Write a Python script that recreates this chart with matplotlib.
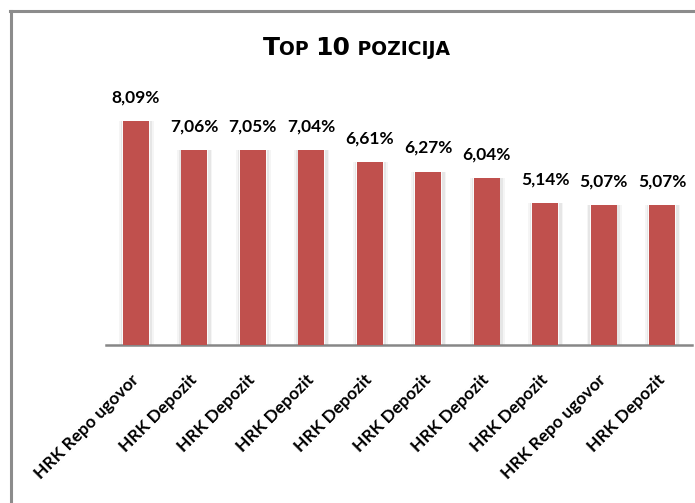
import matplotlib.pyplot as plt
from matplotlib.lines import Line2D

pozicije = ['HRK Repo ugovor', 'HRK Depozit', 'HRK Depozit', 'HRK Depozit',
            'HRK Depozit', 'HRK Depozit', 'HRK Depozit', 'HRK Depozit',
            'HRK Repo ugovor', 'HRK Depozit']
udjeli = [8.09, 7.06, 7.05, 7.04, 6.61, 6.27, 6.04, 5.14, 5.07, 5.07]

bar_color = '#C0504D'
W, H = 695, 503

fig = plt.figure(figsize=(6.95, 5.03), dpi=100)
ax = fig.add_axes([106 / W, (H - 345) / H, (692 - 106) / W, 285 / H])

x = list(range(len(udjeli)))
w = 0.44
# soft shadow round the bars
ax.bar([i + 0.01 for i in x], udjeli, width=w + 0.16, color='#f5f5f5', zorder=1)
ax.bar([i + 0.01 for i in x], udjeli, width=w + 0.10, color='#e6e6e6', zorder=1)
ax.bar(x, udjeli, width=w + 0.03, color='#fbfbfb', zorder=2)
ax.bar(x, udjeli, width=w, color=bar_color, zorder=3)

for i, v in zip(x, udjeli):
    ax.annotate(f'{v:.2f}%'.replace('.', ','), (i, v), xytext=(0, 17),
                textcoords='offset points', ha='center', va='center',
                fontsize=12.5, fontweight='bold', family='Lato')

ax.set_xlim(-0.51, len(udjeli) - 0.49)
ax.set_ylim(0, 10.3)
ax.set_yticks([])
ax.set_xticks(x)
ax.set_xticklabels(pozicije, rotation=45, ha='right', va='center',
                   rotation_mode='anchor', fontsize=12.5, fontweight='bold',
                   family='Lato')
ax.tick_params(axis='x', length=0, pad=23)
for s in ['top', 'right', 'left']:
    ax.spines[s].set_visible(False)
ax.spines['bottom'].set_color('#878787')
ax.spines['bottom'].set_linewidth(1.8)

# frame (left and top edges)
fig.add_artist(Line2D([11 / W, 11 / W], [0, (H - 11) / H], color='#8c8c8c', lw=2.2))
fig.add_artist(Line2D([10 / W, 1], [(H - 11) / H, (H - 11) / H], color='#8c8c8c', lw=2.2))

# title in small caps, built from pieces
pieces = [('T', 18), ('OP ', 13.5), ('10', 18), (' POZICIJA', 13.5)]
base_y = (H - 55) / H
texts = [fig.text(0.3, base_y, pieces[0][0], fontsize=pieces[0][1],
                  fontweight='bold', va='baseline', ha='left')]
for s, size in pieces[1:]:
    t = ax.annotate(s, xy=(1, base_y), xycoords=(texts[-1], 'figure fraction'),
                    fontsize=size, fontweight='bold', va='baseline', ha='left',
                    annotation_clip=False)
    texts.append(t)

fig.canvas.draw()
r = fig.canvas.get_renderer()
left = texts[0].get_window_extent(r).x0
right = texts[-1].get_window_extent(r).x1
texts[0].set_x(0.3 + (356 - (left + right) / 2) / W)

fig.savefig('out.png', dpi=100)
